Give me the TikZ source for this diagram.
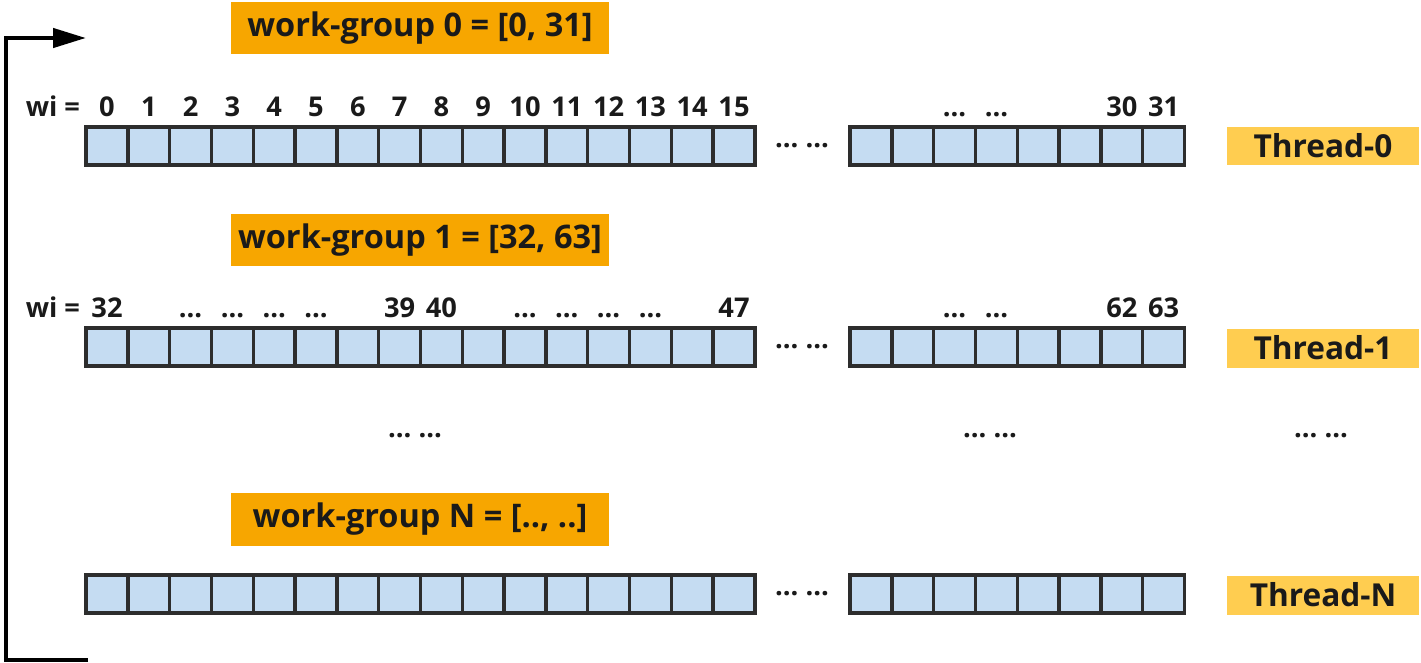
\documentclass[tikz,border=0pt]{standalone}
\usepackage{fontspec}
\setmainfont{Open Sans}
\usepackage{tikz}
\usetikzlibrary{positioning,arrows.meta}

\definecolor{wgorange}{RGB}{247,166,0}
\definecolor{thyellow}{RGB}{255,205,80}
\definecolor{cellblue}{RGB}{197,220,242}
\definecolor{cellborder}{RGB}{45,45,45}
\definecolor{ink}{RGB}{26,26,26}

\tikzset{
  cell/.style={draw=cellborder, fill=cellblue, line width=2pt,
    minimum width=0.836cm, minimum height=0.76cm, inner sep=0pt},
  wgbox/.style={fill=wgorange, text=ink, minimum width=7.56cm, minimum height=1.06cm,
    font=\bfseries\fontsize{18.5}{21}\selectfont},
  thbox/.style={fill=thyellow, text=ink, minimum width=3.84cm, minimum height=0.78cm,
    font=\bfseries\fontsize{18}{21}\selectfont},
  idx/.style={text=ink, inner sep=0pt, font=\bfseries\fontsize{15.5}{17}\selectfont},
}

\begin{document}
\begin{tikzpicture}[x=0.02cm,y=-0.02cm]
\useasboundingbox (0,0) rectangle (1421,663);

% loop arrow on the left
\coordinate (lp0) at (88,660);
\coordinate (lp1) at (6,660);
\coordinate (lp2) at (6,38);
\coordinate (lp3) at (86,38);
\draw[line width=2.5pt, -{Triangle[length=0.66cm,width=0.38cm]}] (lp0) -- (lp1) -- (lp2) -- (lp3);

% work-groups and threads
\node[wgbox] (wg0) at (420,28) {work-group 0 = [0, 31]};
\node[wgbox] (wg1) at (420,240) {work-group 1 = [32, 63]};
\node[wgbox] (wgN) at (420,519) {work-group N = [.., ..]};
\node[thbox] (th0) at (1323,146) {Thread-0};
\node[thbox] (th1) at (1323,348) {Thread-1};
\node[thbox] (thN) at (1323,595) {Thread-N};

% rows of work-items
\foreach \r/\y in {0/146,1/347,N/594} {
  \foreach \i in {0,...,15}
    \node[cell] (c\r-\i) at ({107+41.8*\i},\y) {};
  \foreach \j in {0,...,7}
    \node[cell] (d\r-\j) at ({871+41.8*\j},\y) {};
  \node[idx] (g\r) at (802,\y) {\ldots\ \ldots};
}

% indices of row 0
\foreach \i in {0,...,15}
  \node[idx, above=0.17cm of c0-\i] (n0-\i) {\i};
\foreach \j/\t in {2/\ldots,3/\ldots,6/30,7/31}
  \node[idx, above=0.17cm of d0-\j] (m0-\j) {\t};
\node[idx, anchor=base east, xshift=-0.08cm] (wi0) at (c0-0.west |- n0-0.base) {wi =};

% indices of row 1
\foreach \i/\t in {0/32,2/\ldots,3/\ldots,4/\ldots,5/\ldots,7/39,8/40,10/\ldots,11/\ldots,12/\ldots,13/\ldots,15/47}
  \node[idx, above=0.17cm of c1-\i] (n1-\i) {\t};
\foreach \j/\t in {2/\ldots,3/\ldots,6/62,7/63}
  \node[idx, above=0.17cm of d1-\j] (m1-\j) {\t};
\node[idx, anchor=base east, xshift=-0.08cm] (wi1) at (c1-0.west |- n1-0.base) {wi =};

% rows left out
\node[idx] (skip0) at (415,436) {\ldots\ \ldots};
\node[idx] (skip1) at (990,436) {\ldots\ \ldots};
\node[idx] (skip2) at (1321,436) {\ldots\ \ldots};
\end{tikzpicture}
\end{document}
